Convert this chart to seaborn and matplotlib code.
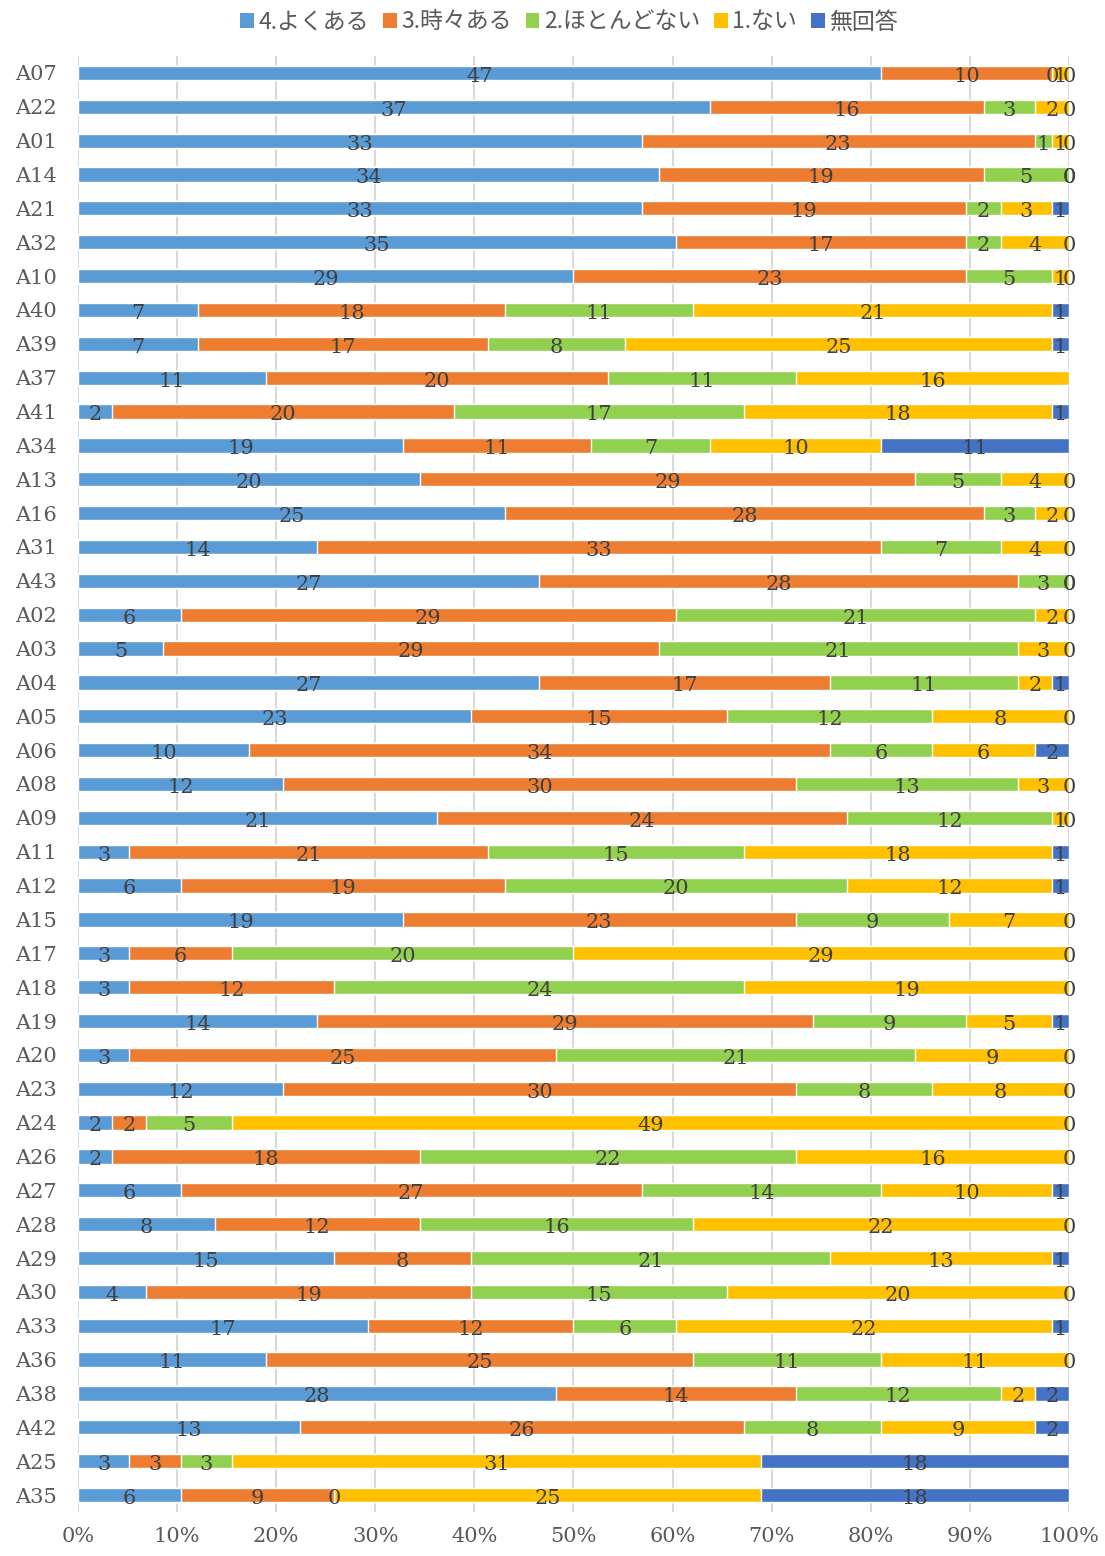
import numpy as np
import pandas as pd
import matplotlib.pyplot as plt
import seaborn as sns
from matplotlib.patches import Patch

# items from top to bottom
items = ["A07", "A22", "A01", "A14", "A21", "A32", "A10", "A40", "A39", "A37",
         "A41", "A34", "A13", "A16", "A31", "A43", "A02", "A03", "A04", "A05",
         "A06", "A08", "A09", "A11", "A12", "A15", "A17", "A18", "A19", "A20",
         "A23", "A24", "A26", "A27", "A28", "A29", "A30", "A33", "A36", "A38",
         "A42", "A25", "A35"]

often = [47, 37, 33, 34, 33, 35, 29, 7, 7, 11,
         2, 19, 20, 25, 14, 27, 6, 5, 27, 23,
         10, 12, 21, 3, 6, 19, 3, 3, 14, 3,
         12, 2, 2, 6, 8, 15, 4, 17, 11, 28,
         13, 3, 6]
sometimes = [10, 16, 23, 19, 19, 17, 23, 18, 17, 20,
             20, 11, 29, 28, 33, 28, 29, 29, 17, 15,
             34, 30, 24, 21, 19, 23, 6, 12, 29, 25,
             30, 2, 18, 27, 12, 8, 19, 12, 25, 14,
             26, 3, 9]
rarely = [0, 3, 1, 5, 2, 2, 5, 11, 8, 11,
          17, 7, 5, 3, 7, 3, 21, 21, 11, 12,
          6, 13, 12, 15, 20, 9, 20, 24, 9, 21,
          8, 5, 22, 14, 16, 21, 15, 6, 11, 12,
          8, 3, 0]
never = [1, 2, 1, 0, 3, 4, 1, 21, 25, 16,
         18, 10, 4, 2, 4, 0, 2, 3, 2, 8,
         6, 3, 1, 18, 12, 7, 29, 19, 5, 9,
         8, 49, 16, 10, 22, 13, 20, 22, 11, 2,
         9, 31, 25]
no_answer = [0, 0, 0, 0, 1, 0, 0, 1, 1, np.nan,
             1, 11, 0, 0, 0, 0, 0, 0, 1, 0,
             2, 0, 0, 1, 1, 0, 0, 0, 1, 0,
             0, 0, 0, 1, 0, 1, 0, 1, 0, 2,
             2, 18, 18]

series_names = ["4.よくある", "3.時々ある", "2.ほとんどない", "1.ない", "無回答"]
colors = ["#5B9BD5", "#ED7D31", "#92D050", "#FFC000", "#4472C4"]

counts = pd.DataFrame(dict(zip(series_names, [often, sometimes, rarely, never, no_answer])),
                      index=items)
filled = counts.fillna(0)
pct = filled.div(filled.sum(axis=1), axis=0) * 100
cum = pct.cumsum(axis=1)

sns.set_theme(style="white")
plt.rcParams['font.family'] = ['DejaVu Serif', 'Noto Sans CJK JP']

fig = plt.figure(figsize=(11.05, 15.56), dpi=100)
ax = fig.add_axes([0.0706, 0.0283, 0.8968, 0.9357])

# stack by overdrawing cumulative totals, last series first
for name, color in reversed(list(zip(series_names, colors))):
    sns.barplot(x=cum[name].values, y=items, order=items, orient="y",
                color=color, saturation=1, width=0.42, errorbar=None, ax=ax)

# data labels centred in each segment
for i, item in enumerate(items):
    for name in series_names:
        v = counts.loc[item, name]
        if np.isnan(v):
            continue
        x = cum.loc[item, name] - pct.loc[item, name] / 2
        ax.text(x, i + 0.1, f"{int(v)}", ha="center", va="center",
                fontsize=15, color="#404040")

ax.set_xlim(0, 100)
ax.set_ylim(len(items) - 0.5, -0.5)
ax.set_xticks(np.arange(0, 101, 10))
ax.set_xticklabels([f"{t}%" for t in range(0, 101, 10)])
ax.set_xlabel("")
ax.set_ylabel("")
ax.xaxis.grid(True, color="#D9D9D9", linewidth=1.5)
ax.yaxis.grid(False)
ax.set_axisbelow(True)
for s in ax.spines.values():
    s.set_visible(False)
ax.tick_params(axis="x", length=0, pad=11, labelsize=15, labelcolor="#595959")
ax.tick_params(axis="y", length=0, pad=15, labelsize=15, labelcolor="#595959")

handles = [Patch(facecolor=c, edgecolor="none") for c in colors]
fig.legend(handles, series_names, loc="center", bbox_to_anchor=(0.515, 1 - 22 / 1556),
           ncol=5, frameon=False, handlelength=0.6, handleheight=0.6,
           handletextpad=0.2, columnspacing=0.6,
           prop={"family": ["Noto Sans CJK JP"], "size": 16.5}, labelcolor="#595959")

fig.savefig("out.png", dpi=100)
